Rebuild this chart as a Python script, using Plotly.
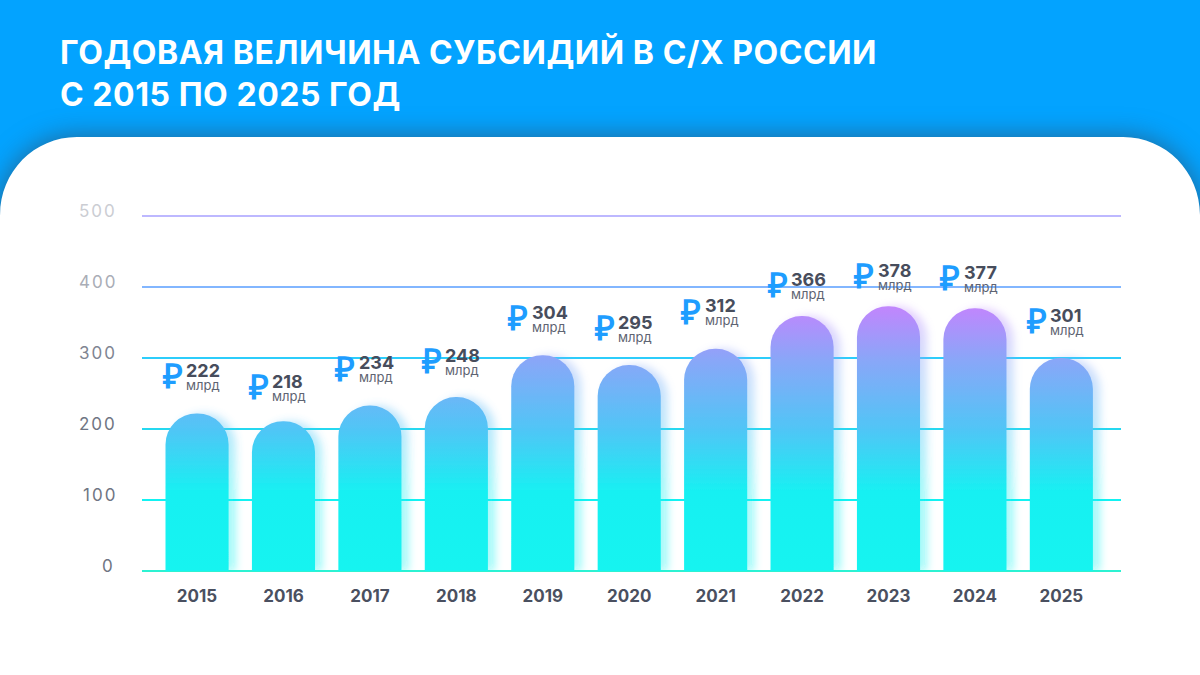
import plotly.graph_objects as go

years = ['2015', '2016', '2017', '2018', '2019', '2020', '2021', '2022', '2023', '2024', '2025']
subsidy_labels = [222, 218, 234, 248, 304, 295, 312, 366, 378, 377, 301]
bar_heights = [222, 211, 233, 245, 304, 290, 313, 359, 373, 370, 300] # tops as drawn, a bit off the labels
label_lift = [43, 40, 43, 42, 43, 43, 43, 37, 36, 36, 43]

tick_values = [0, 100, 200, 300, 400, 500]
tick_colors = ['#6f7583', '#6f7583', '#6f7583', '#7f8592', '#a9adb6', '#cbcdd3']
grid_colors = ['#2df2d2', '#12f2f2', '#25d8f0', '#2ccdfb', '#82b6ff', '#bdb8ff']

title_text = 'ГОДОВАЯ ВЕЛИЧИНА СУБСИДИЙ В С/Х РОССИИ<br>С 2015 ПО 2025 ГОД'

FONT = 'Inter'

def px(x, y):
    return '{:.4f},{:.4f}'.format((x - 142) / 979, (571 - y) / 355)

# white sheet under the chart
panel = 'M ' + px(-40, 700) + ' L ' + px(-40, 235) + ' L ' + px(0, 215) + ' C ' + px(0, 172) + ' ' + px(34, 137) + ' ' + px(77, 137) \
    + ' L ' + px(1123, 137) + ' C ' + px(1166, 137) + ' ' + px(1200, 172) + ' ' + px(1200, 215) \
    + ' L ' + px(1240, 235) + ' L ' + px(1240, 700) + ' Z'

fig = go.Figure(data=[go.Bar(
    x = years,
    y = bar_heights,
    width = 0.73,
    marker = dict(
      color = '#14f4f0',
      line = dict(width = 0),
      cornerradius = 32,
    ),
    hoverinfo = 'skip',
)])

fig.add_shape(type = 'path', path = panel, xref = 'paper', yref = 'paper',
              fillcolor = 'white', line = dict(width = 0), layer = 'below')

for i in range(len(tick_values)):
    fig.add_shape(type = 'line', xref = 'paper', x0 = 0, x1 = 1, yref = 'paper',
                  y0 = tick_values[i] / tick_values[-1], y1 = tick_values[i] / tick_values[-1],
                  line = dict(color = grid_colors[i], width = 2), layer = 'below')
    fig.add_annotation(xref = 'paper', x = 0, xshift = -27, xanchor = 'right', yref = 'y', y = tick_values[i], yshift = 5,
                       text = str(tick_values[i]), showarrow = False, borderpad = 0,
                       font = dict(family = FONT, size = 17, color = tick_colors[i]))

# x is the position of the category: a year string would be read as a number
for i in range(len(years)):
    fig.add_annotation(xref = 'x', yref = 'y', x = i, y = bar_heights[i], xshift = -25, yshift = label_lift[i] - 5,
                       text = '₽', showarrow = False, borderpad = 0,
                       font = dict(family = 'Open Sans', size = 34, color = '#1e9dff', weight = 600))
    # font size 10 only sets the line step, the two lines have their own sizes
    fig.add_annotation(xref = 'x', yref = 'y', x = i, y = bar_heights[i], xshift = -12, xanchor = 'left', yshift = label_lift[i] - 6,
                       text = '<span style="font-size:18px;font-weight:bold;color:#474d5c">' + str(subsidy_labels[i]) + '</span><br>'
                              + '<span style="font-size:13px">млрд</span>',
                       align = 'left', showarrow = False, borderpad = 0,
                       font = dict(family = FONT, size = 10, color = '#5e6472'))

fig.update_layout(
    width = 1200,
    height = 675,
    margin = dict(l = 142, r = 79, t = 216, b = 104),
    paper_bgcolor = '#03a3ff',
    plot_bgcolor = 'rgba(0,0,0,0)',
    showlegend = False,
    title = dict(text = title_text, x = 60 / 1200, xanchor = 'left', xref = 'container', yref = 'container', y = 1 - 64 / 675, yanchor = 'top',
                 font = dict(family = FONT, size = 32, color = 'white', weight = 'bold')),
)

fig.update_xaxes(type = 'category', range = [-0.637, 10.69], showgrid = False, zeroline = False, showline = False,
                 ticks = '', ticklabelstandoff = 13,
                 tickfont = dict(family = FONT, size = 17, color = '#4a5060', weight = 'bold'))
fig.update_yaxes(range = [0, 500], showgrid = False, zeroline = False, showline = False, showticklabels = False)

# bars need a vertical gradient shared by all of them and a soft glow, plotly has neither
post = """
document.body.style.margin = '0';
document.body.style.overflow = 'hidden';
var svg = document.querySelector('.main-svg');
var defs = svg.querySelector('defs');
var ns = 'http://www.w3.org/2000/svg';
var grad = document.createElementNS(ns, 'linearGradient');
grad.setAttribute('id', 'barGrad');
grad.setAttribute('gradientUnits', 'userSpaceOnUse');
grad.setAttribute('x1', '0'); grad.setAttribute('x2', '0');
grad.setAttribute('y1', '355'); grad.setAttribute('y2', '90');
[[0, '#14f4f0'], [0.3, '#18f0f2'], [0.53, '#4fc6f6'], [0.8, '#8aa6f8'], [1, '#c285fd']].forEach(function (s) {
    var stop = document.createElementNS(ns, 'stop');
    stop.setAttribute('offset', s[0]);
    stop.setAttribute('stop-color', s[1]);
    grad.appendChild(stop);
});
defs.appendChild(grad);
var filt = document.createElementNS(ns, 'filter');
filt.setAttribute('id', 'barGlow');
filt.setAttribute('x', '-40%'); filt.setAttribute('y', '-20%');
filt.setAttribute('width', '180%'); filt.setAttribute('height', '140%');
filt.innerHTML = '<feOffset in="SourceGraphic" dx="7" dy="0" result="o"/>' +
    '<feGaussianBlur in="o" stdDeviation="4" result="b"/>' +
    '<feComponentTransfer in="b" result="a"><feFuncA type="linear" slope="0.4"/></feComponentTransfer>' +
    '<feMerge><feMergeNode in="a"/><feMergeNode in="SourceGraphic"/></feMerge>';
defs.appendChild(filt);
document.querySelectorAll('.barlayer .point path').forEach(function (p) {
    p.style.fill = 'url(#barGrad)';
    p.style.filter = 'url(#barGlow)';
});
document.querySelector('.layer-below .shapelayer path').style.filter = 'drop-shadow(0 0 13px rgba(45,75,100,0.7))';
document.querySelectorAll('.gtitle').forEach(function (t) { t.style.letterSpacing = '0.55px'; });
document.querySelectorAll('.annotation').forEach(function (a, k) {
    if (k < 6) { a.querySelector('text').style.letterSpacing = '2px'; }
});
"""

fig.write_html('out.html', post_script = post, config = dict(displayModeBar = False))
